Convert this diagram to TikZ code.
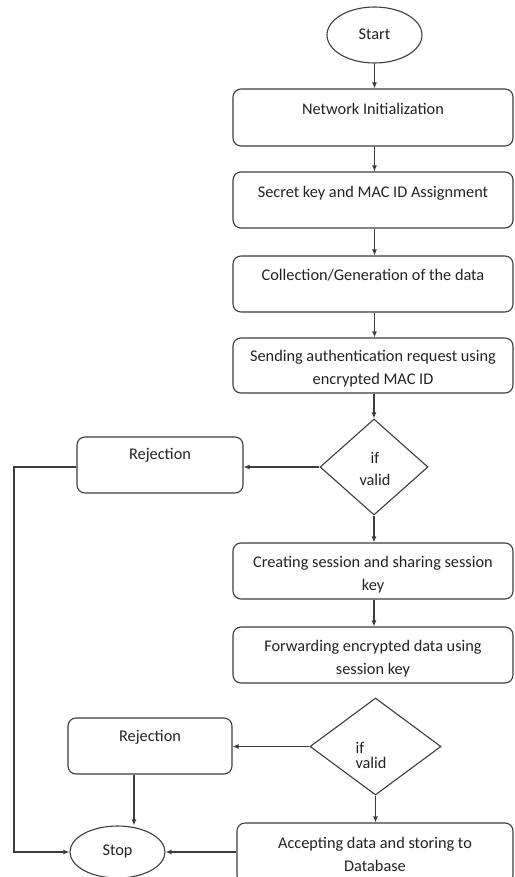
\documentclass[tikz,border=0pt]{standalone}
\usepackage{fontspec}
\setmainfont{Carlito}
\usetikzlibrary{shapes.geometric,arrows.meta}
\definecolor{lc}{HTML}{3C3C3C}
\definecolor{tc}{HTML}{222222}
\begin{document}
\begin{tikzpicture}[x=1pt,y=-1pt, line width=1.1pt,
  box/.style={draw=lc, rounded corners=8pt, inner sep=0pt},
  oval/.style={draw=lc, ellipse, inner sep=0pt},
  dia/.style={draw=lc, diamond, inner sep=0pt},
  txt/.style={text=tc, font=\fontsize{16.3}{23}\selectfont, align=center, inner sep=0pt},
  arr/.style={draw=lc, -{Latex[length=6pt,width=5pt]}},
  ln/.style={draw=lc}]
\useasboundingbox (0,0) rectangle (514,877);
\clip (0,0) rectangle (514,877);

% shapes
\node[oval, minimum width=95, minimum height=56] (start) at (374.5,35) {};
\node[txt] (tstart) at (374.5,34) {Start};

\node[box, minimum width=280, minimum height=57] (n1) at (373,117.5) {};
\node[txt] (t1) at (373,109) {Network Initialization};

\node[box, minimum width=280, minimum height=56] (n2) at (373,200) {};
\node[txt] (t2) at (373,193) {Secret key and MAC ID Assignment};

\node[box, minimum width=280, minimum height=56] (n3) at (373,284) {};
\node[txt] (t3) at (373,275) {Collection/Generation of the data};

\node[box, minimum width=280, minimum height=55] (n4) at (373,365.5) {};
\node[txt] (t4) at (373,368.5) {Sending authentication request using\\encrypted MAC ID};

\node[dia, minimum width=108, minimum height=96] (d1) at (374,467) {};
\node[txt] (td1) at (375,469) {if\\[-1pt]valid};

\node[box, minimum width=166, minimum height=56] (r1) at (160,465) {};
\node[txt] (tr1) at (160,455) {Rejection};

\node[box, minimum width=280, minimum height=56] (n5) at (373,571) {};
\node[txt] (t5) at (373,574.5) {Creating session and sharing session\\key};

\node[box, minimum width=280, minimum height=56] (n6) at (373,655) {};
\node[txt] (t6) at (373,658.5) {Forwarding encrypted data using\\session key};

\node[dia, minimum width=131, minimum height=97] (d2) at (375.5,746.5) {};
\node[txt, align=left, font=\fontsize{16.3}{15}\selectfont] (td2) at (371,755) {if\\valid};

\node[box, minimum width=164, minimum height=56] (r2) at (150,746) {};
\node[txt] (tr2) at (150,737) {Rejection};

\node[oval, minimum width=95, minimum height=52] (stop) at (117.5,852) {};
\node[txt] (tstop) at (117.5,852) {Stop};

\node[box, minimum width=276, minimum height=60] (acc) at (375,853) {};
\node[txt] (tacc) at (375,854.5) {Accepting data and storing to\\Database};

% connectors
\draw[arr] (start.south) -- (n1.north -| start.south);
\draw[arr] (n1.south -| start.south) -- (n2.north -| start.south);
\draw[arr] (n2.south -| start.south) -- (n3.north -| start.south);
\draw[arr] (n3.south -| start.south) -- (n4.north -| start.south);
\draw[arr] (n4.south -| d1.north) -- (d1.north);
\draw[arr] (d1.west) -- (r1.east |- d1.west);
\draw[arr] (d1.south) -- (n5.north -| d1.south);
\draw[arr] (n5.south -| d1.south) -- (n6.north -| d1.south);
\coordinate (lx) at (14,0);
\draw[arr] (r1.west |- d1.west) -- (lx |- d1.west) -- (lx |- stop.west) -- (stop.west);
\draw[arr] (d2.west) -- (r2.east |- d2.west);
\coordinate (rx) at (134,0);
\draw[arr] (rx |- r2.south) -- (rx |- stop.north);
\draw[arr] (d2.south) -- (acc.north -| d2.south);
\draw[arr] (acc.west |- stop.east) -- (stop.east);
\end{tikzpicture}
\end{document}
